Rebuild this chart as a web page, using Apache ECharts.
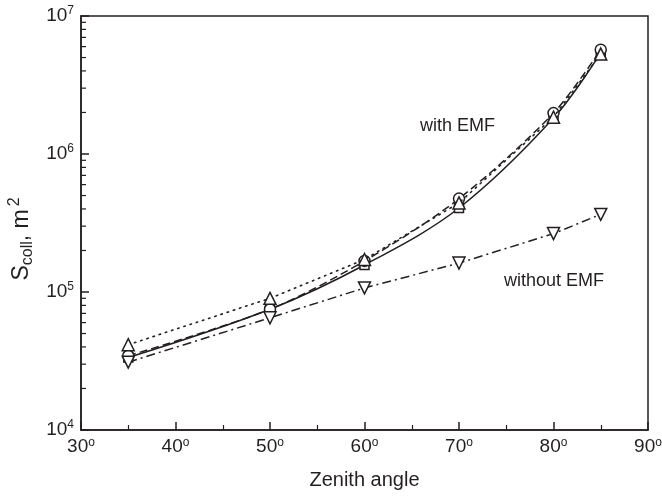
<!DOCTYPE html>
<html>
<head>
<meta charset="utf-8">
<script src="https://cdn.jsdelivr.net/npm/echarts@6/dist/echarts.min.js"></script>
<style>html,body{margin:0;padding:0;background:#fff;}#c{width:662px;height:496px;}</style>
</head>
<body>
<div id="c"></div>
<script>
const angles = [35, 50, 60, 70, 80, 85];
const circles = [34500, 75000, 168000, 475000, 1980000, 5700000];
const squares = [33500, 75000, 157000, 406000, 1820000, 5400000];
const trianglesUp = [41500, 90000, 172000, 442000, 1850000, 5300000];
const trianglesDown = [31000, 65000, 107000, 162000, 265000, 365000];
const xTicks = [30, 40, 50, 60, 70, 80, 90];
const yMinorTicks = [2e4,3e4,4e4,5e4,6e4,7e4,8e4,9e4,2e5,3e5,4e5,5e5,6e5,7e5,8e5,9e5,2e6,3e6,4e6,5e6,6e6,7e6,8e6,9e6];
const labelWith = 'with EMF';
const labelWithout = 'without EMF';

const FONT = '"Liberation Sans", Arial, sans-serif';
const C = '#231f20';
const pair = ys => angles.map((a, i) => [a, ys[i]]);
const markerStyle = {color: '#fff', borderColor: C, borderWidth: 1.5};

const chart = echarts.init(document.getElementById('c'), null, {renderer: 'canvas'});
chart.setOption({
  animation: false,
  backgroundColor: '#fff',
  grid: {left: 81, right: 14, top: 16, bottom: 66, containLabel: false, outerBoundsMode: 'none',
         show: true, borderColor: C, borderWidth: 1.5, backgroundColor: 'transparent'},
  xAxis: {
    type: 'value', min: 30, max: 90, interval: 10,
    axisLine: {show: true, lineStyle: {color: C, width: 1.5}},
    axisTick: {show: true, inside: true, length: 8, lineStyle: {color: C, width: 1.5}},
    minorTick: {show: true, splitNumber: 2, length: 5, lineStyle: {color: C, width: 1.2}},
    splitLine: {show: false},
    axisLabel: {
      margin: 7,
      formatter: v => '{n|' + v + '}{s|o}',
      rich: {n: {fontFamily: FONT, fontSize: 19, color: C}, s: {fontFamily: FONT, fontSize: 12, color: C, verticalAlign: 'top', padding: [0,0,8,0]}}
    },
    name: 'Zenith angle', nameLocation: 'middle', nameGap: 40,
    nameTextStyle: {fontFamily: FONT, fontSize: 20, color: C}
  },
  yAxis: {
    type: 'log', logBase: 10, min: 1e4, max: 1e7,
    axisLine: {show: true, lineStyle: {color: C, width: 1.5}},
    axisTick: {show: true, inside: true, length: 8, lineStyle: {color: C, width: 1.5}},
    splitLine: {show: false},
    axisLabel: {
      margin: 7,
      formatter: v => '{b|10}{s|' + Math.round(Math.log10(v)) + '}',
      rich: {b: {fontFamily: FONT, fontSize: 19, color: C}, s: {fontFamily: FONT, fontSize: 12, color: C, verticalAlign: 'top', padding: [0,0,10,0]}}
    },
    name: '{a|S}{sub|coll}{a|, m}{sup|2}', nameLocation: 'middle', nameGap: 44, nameRotate: 90,
    nameTextStyle: {
      padding: [0, 32, 0, 0],
      rich: {
        a: {fontFamily: FONT, fontSize: 23, color: C},
        sub: {fontFamily: FONT, fontSize: 16, color: C, padding: [12,0,0,0]},
        sup: {fontFamily: FONT, fontSize: 16, color: C, padding: [0,0,14,3]}
      }
    }
  },
  series: [
    {
      type: 'line', data: pair(squares), smooth: 0.35, symbol: 'rect', symbolSize: 9,
      lineStyle: {color: C, width: 1.5, type: 'solid'}, itemStyle: markerStyle, z: 3
    },
    {
      type: 'line', data: pair(circles), smooth: 0.3, symbol: 'circle', symbolSize: 11,
      lineStyle: {color: C, width: 1.5, type: [8, 4]}, itemStyle: markerStyle, z: 4
    },
    {
      type: 'line', data: pair(trianglesUp), symbol: 'triangle', symbolSize: 12,
      lineStyle: {color: C, width: 1.6, type: [1.5, 5], cap: 'round'}, itemStyle: markerStyle, z: 5
    },
    {
      type: 'line', data: pair(trianglesDown), symbol: 'triangle', symbolRotate: 180, symbolSize: 12,
      lineStyle: {color: C, width: 1.5, type: [9, 4, 2, 4]}, itemStyle: markerStyle, z: 5
    },
    {
      type: 'custom', data: yMinorTicks.map(v => [30, v]), silent: true, z: 6,
      renderItem: (params, api) => {
        const p = api.coord([api.value(0), api.value(1)]);
        return {type: 'line', shape: {x1: p[0], y1: p[1], x2: p[0] + 5, y2: p[1]}, style: {stroke: C, lineWidth: 1.2}};
      }
    }
  ],
  graphic: [
    {type: 'text', left: 420, top: 117, style: {text: labelWith, font: '18px ' + FONT, fill: C}},
    {type: 'text', left: 504, top: 272, style: {text: labelWithout, font: '18px ' + FONT, fill: C}}
  ]
});
</script>
</body>
</html>
